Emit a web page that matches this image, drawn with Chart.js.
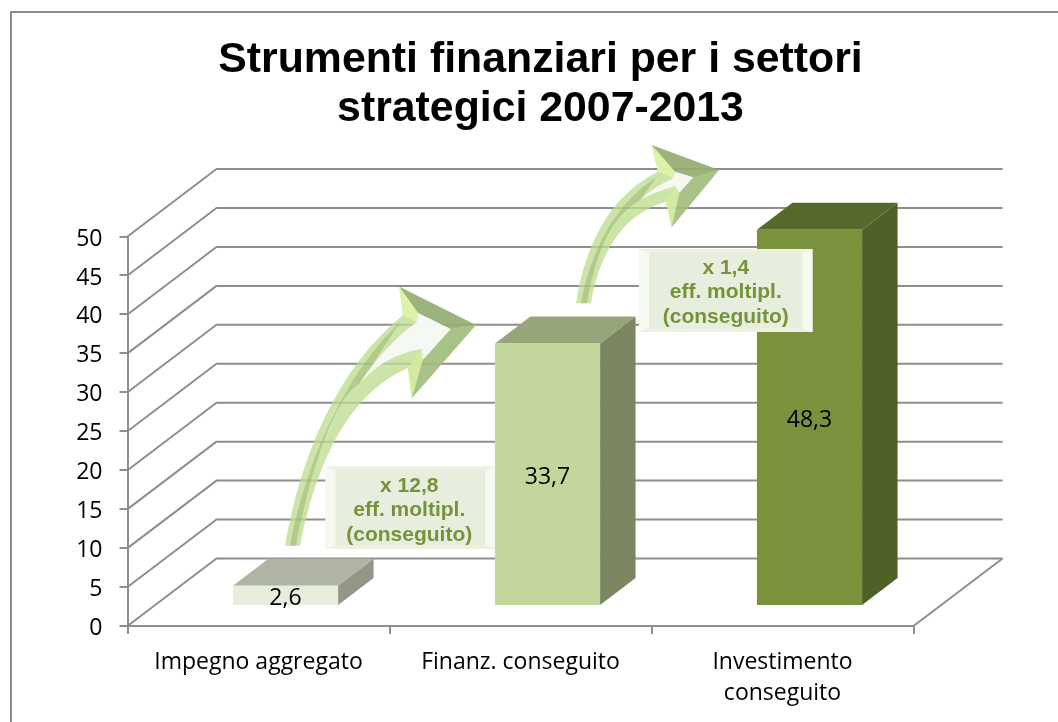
<!DOCTYPE html>
<html><head><meta charset="utf-8">
<style>html,body{margin:0;padding:0;background:#fff}canvas{display:block}</style>
<script src="https://cdn.jsdelivr.net/npm/chart.js@4/dist/chart.umd.min.js"></script>
</head><body><canvas id="c" width="1058" height="722"></canvas>
<script>
const categories = [["Impegno aggregato"], ["Finanz. conseguito"], ["Investimento", "conseguito"]];
const values = [2.6, 33.7, 48.3];
const tickStep = 5;
const tickMax = 50;
const titleLines = ["Strumenti finanziari per i settori", "strategici 2007-2013"];
const noteLines1 = ["x 12,8", "eff. moltipl.", "(conseguito)"];
const noteLines2 = ["x 1,4", "eff. moltipl.", "(conseguito)"];
const frontColors = ["#E8EEDD", "#C3D69B", "#7A923B"];
const topColors = ["#B0B4A2", "#97A67A", "#556A2A"];
const sideColors = ["#929786", "#7B8760", "#4F6126"];

const GRID = "#8E8E8E", AXIS = "#8E8E8E", LABEL_FONT = "'Open Sans'", LABEL_SIZE = 23;
const wall = {dx: 89, dy: -67.5};
const bar = {ox: 27, oy: -20, dx: 35.5, dy: -27};

function poly(ctx, pts, fill){
  ctx.beginPath(); pts.forEach((p,i)=> i?ctx.lineTo(p[0],p[1]):ctx.moveTo(p[0],p[1])); ctx.closePath();
  ctx.fillStyle = fill; ctx.fill();
}
function arrow(ctx, a){
  const {p0,c1,c2,n1,q0,d1,d2,n2,A,T,B,wa,wb,wc,wd,we,u,l,ni} = a;
  ctx.beginPath();
  ctx.moveTo(...p0); ctx.bezierCurveTo(...c1,...c2,...n1);
  ctx.lineTo(...A); ctx.lineTo(...T); ctx.lineTo(...B); ctx.lineTo(...n2);
  ctx.bezierCurveTo(...d2,...d1,...q0); ctx.closePath();
  ctx.fillStyle = "rgba(190,220,142,.78)"; ctx.fill();
  // darker core of the shaft
  ctx.beginPath();
  ctx.moveTo(p0[0]+5,p0[1]); ctx.bezierCurveTo(c1[0]+6,c1[1]+3,c2[0]+8,c2[1]+6,n1[0]-2,n1[1]+6);
  ctx.lineTo(...we);
  ctx.bezierCurveTo(d2[0]-12,d2[1]+4,d1[0]-4,d1[1],q0[0]-4,q0[1]);
  ctx.closePath(); ctx.fillStyle="rgba(140,165,108,.42)"; ctx.fill();
  // head facets
  poly(ctx,[A,T,wb,wa],"rgba(128,150,100,.62)");
  poly(ctx,[T,B,wc,wb],"rgba(140,168,110,.55)");
  poly(ctx,[A,wa,ni,n1],"rgba(222,245,170,.88)");
  poly(ctx,[B,n2,wd,wc],"rgba(212,236,160,.88)");
  // white interior
  ctx.beginPath();
  ctx.moveTo(...wa); ctx.lineTo(...wb); ctx.lineTo(...wc); ctx.lineTo(...wd);
  ctx.quadraticCurveTo(...l,...we); ctx.quadraticCurveTo(...u,...ni); ctx.closePath();
  ctx.fillStyle="rgba(250,250,250,.92)"; ctx.fill();
}
function noteBox(ctx, b, lines){
  const {x,y,w,h} = b, sx = 10, sy = 3.5;
  ctx.fillStyle="#E8EEDD"; ctx.fillRect(x,y,w,h);
  poly(ctx,[[x,y],[x+sx,y+sy],[x+sx,y+h-sy],[x,y+h]],"#F6F9EF");
  poly(ctx,[[x+w,y],[x+w-sx,y+sy],[x+w-sx,y+h-sy],[x+w,y+h]],"#F6F9EF");
  poly(ctx,[[x,y],[x+w,y],[x+w-sx,y+sy],[x+sx,y+sy]],"#ECF1E2");
  poly(ctx,[[x,y+h],[x+w,y+h],[x+w-sx,y+h-sy],[x+sx,y+h-sy]],"#ECF1E2");
  ctx.fillStyle="#76933C"; ctx.font="bold 21px 'Liberation Sans'"; ctx.textAlign="center"; ctx.textBaseline="middle";
  lines.forEach((t,i)=>ctx.fillText(t,x+w/2+b.tx,y+b.ty+i*24.5));
}

const scene = {
  id:"scene",
  afterLayout(chart){
    const t = chart.titleBlock;
    t.left = 23; t.right = 1058; t.width = 1035;
  },
  beforeDraw(chart){
    const c = chart.ctx;
    c.save(); c.strokeStyle="#8C8C8C"; c.lineWidth=2;
    c.beginPath(); c.moveTo(11,722); c.lineTo(11,12); c.lineTo(1058,12); c.stroke(); c.restore();
  },
  beforeDatasetsDraw(chart){
    const c = chart.ctx, y = chart.scales.y, a = chart.chartArea;
    c.save(); c.strokeStyle=GRID; c.lineWidth=2; c.lineJoin="round";
    y.ticks.forEach(t=>{
      const py = y.getPixelForValue(t.value);
      c.beginPath(); c.moveTo(a.left,py); c.lineTo(a.left+wall.dx,py+wall.dy); c.lineTo(a.right+wall.dx,py+wall.dy); c.stroke();
    });
    const b = y.getPixelForValue(0);
    c.beginPath(); c.moveTo(a.right,b); c.lineTo(a.right+wall.dx,b+wall.dy); c.stroke();
    c.restore();
  },
  beforeDatasetDraw(chart,args){
    const c = chart.ctx;
    c.save(); c.translate(bar.ox,bar.oy);
    args.meta.data.forEach((el,i)=>{
      const l = el.x-el.width/2, r = el.x+el.width/2, t = el.y, b = el.base;
      poly(c,[[l,t],[r,t],[r+bar.dx,t+bar.dy],[l+bar.dx,t+bar.dy]],topColors[i]);
      poly(c,[[r,t],[r,b],[r+bar.dx,b+bar.dy],[r+bar.dx,t+bar.dy]],sideColors[i]);
    });
  },
  afterDatasetDraw(chart){ chart.ctx.restore(); },
  afterDatasetsDraw(chart){
    const c = chart.ctx, meta = chart.getDatasetMeta(0);
    c.save();
    arrow(c,{p0:[285,545.7],c1:[300,460],c2:[335,370],n1:[403,315],q0:[300,545.7],d1:[315,470],d2:[345,395],n2:[408,368],
      A:[399.3,286.7],T:[476,325],B:[411.7,398.3],wa:[418,313],wb:[450.7,329],wc:[422.7,360],wd:[421.7,349],we:[360,383],u:[385,345],l:[385,355],ni:[416.7,322]});
    arrow(c,{p0:[576,303.3],c1:[585,245],c2:[610,195],n1:[658,171.7],q0:[590.7,303.3],d1:[600,255],d2:[620,215],n2:[666,201.7],
      A:[651.7,145],T:[719,170],B:[671.7,227.3],wa:[675,171.7],wb:[693.3,177.3],wc:[679.3,192.7],wd:[675,186],we:[640,200],u:[655,186],l:[655,192],ni:[673.3,178.3]});
    noteBox(c,{x:325.5,y:466.5,w:169.5,h:82.5,tx:-1,ty:19.5},noteLines1);
    noteBox(c,{x:639,y:249,w:173.5,h:83,tx:0,ty:19},noteLines2);
    c.fillStyle="#000"; c.font=LABEL_SIZE+"px "+LABEL_FONT; c.textAlign="center"; c.textBaseline="middle";
    meta.data.forEach((el,i)=>{
      c.fillText(String(values[i]).replace(".",","), el.x+bar.ox, (el.y+el.base)/2+bar.oy+3);
    });
    c.restore();
  }
};

new Chart(document.getElementById("c"),{
  type:"bar",
  data:{labels:categories,datasets:[{data:values,backgroundColor:frontColors,borderWidth:0,barPercentage:0.4013,categoryPercentage:1}]},
  plugins:[scene],
  options:{
    responsive:false,animation:false,
    layout:{padding:{left:0,right:144.5,top:0,bottom:0}},
    plugins:{
      legend:{display:false},tooltip:{enabled:false},
      title:{display:true,text:titleLines,color:"#000",
        font:{family:"'Liberation Sans'",size:42.8,weight:"bold",lineHeight:1.157},
        padding:{top:35,bottom:102.5}}
    },
    scales:{
      x:{
        afterFit(s){s.height=96;},
        border:{color:AXIS,width:2},
        grid:{offset:true,drawOnChartArea:false,color:AXIS,lineWidth:2,tickLength:8},
        ticks:{color:"#000",font:{family:LABEL_FONT,size:LABEL_SIZE,lineHeight:1.36},padding:12.5,maxRotation:0,autoSkip:false}
      },
      y:{
        min:0,max:tickMax,
        afterFit(s){s.width=127.5;},
        border:{color:AXIS,width:2},
        grid:{drawOnChartArea:false,color:AXIS,lineWidth:2,tickLength:8},
        ticks:{stepSize:tickStep,color:"#000",font:{family:LABEL_FONT,size:LABEL_SIZE},padding:17,labelOffset:2.5}
      }
    }
  }
});
</script></body></html>
